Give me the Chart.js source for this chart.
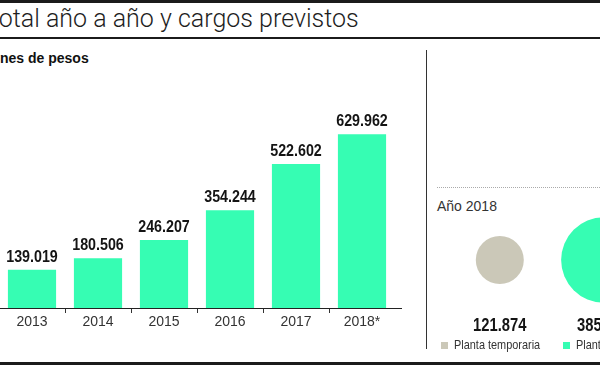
<!DOCTYPE html>
<html>
<head>
<meta charset="utf-8">
<script src="https://cdn.jsdelivr.net/npm/chart.js@4/dist/chart.umd.min.js"></script>
<style>
  body { margin: 0; width: 600px; height: 365px; overflow: hidden; position: relative; background: #fff; font-family: 'Liberation Sans', Arial, sans-serif; }
  .rule { position: absolute; left: 0; width: 600px; background: #1b1b1b; }
  #title { position: absolute; top: 4px; font: 300 25px Roboto, 'Liberation Sans', sans-serif; color: #1e1e1e; white-space: nowrap; line-height: 30px; }
  #unit { position: absolute; top: 50px; font: bold 14px 'Liberation Sans', Arial, sans-serif; color: #111; white-space: nowrap; line-height: 16px; }
  #divider { position: absolute; left: 426px; top: 50px; width: 1px; height: 299px; background: #333; }
  #dots { position: absolute; left: 437px; top: 187px; width: 163px; border-top: 1px dotted #aaa; }
  #year { position: absolute; left: 437px; top: 198px; font: 14px 'Liberation Sans', Arial, sans-serif; color: #333; line-height: 16px; }
  #bars { position: absolute; left: -1px; top: 100px; }
  #bubbles { position: absolute; left: 427px; top: 190px; }
  .item { position: absolute; top: 338px; height: 14px; white-space: nowrap; }
  .item i { position: absolute; left: 0; top: 4px; width: 7px; height: 7px; }
  .item span { position: absolute; left: 13px; top: 0; font: 13px 'Liberation Sans', Arial, sans-serif; color: #333; line-height: 14px; display: inline-block; transform: scaleX(0.84); transform-origin: left; }
</style>
</head>
<body>
<div class="rule" style="top:0;height:3px"></div>
<div id="title"></div>
<div class="rule" style="top:37px;height:2px"></div>
<div id="unit"></div>
<canvas id="bars" width="404" height="240"></canvas>
<div id="divider"></div>
<div id="dots"></div>
<div id="year"></div>
<canvas id="bubbles" width="260" height="175"></canvas>
<div id="legend"></div>
<div class="rule" style="top:362px;height:3px"></div>
<script>
// data
const years = ['2013', '2014', '2015', '2016', '2017', '2018*'];
const totals = [139019, 180506, 246207, 354244, 522602, 629962];
const plantas = ['Planta temporaria', 'Planta permanente'];
const cargos2018 = [121874, 385203];
const titleText = 'Total año a año y cargos previstos';
const unitText = 'Millones de pesos';
const yearText = 'Año 2018';

const GREEN = '#36fdb3';
const GRAY = '#cbc8b8';
const plantaColors = [GRAY, GREEN];
const legendLeft = [441, 563];

function fmt(v) {
    return String(v).replace(/\B(?=(\d{3})+(?!\d))/g, '.');
}

// texts cut by the left edge, like the original crop
const measure = document.createElement('canvas').getContext('2d');
function placeCut(el, text, cut, font) {
    el.textContent = text;
    measure.font = font;
    el.style.left = -measure.measureText(cut).width + 'px';
}
placeCut(document.getElementById('title'), titleText, 'T', '300 25px Roboto, "Liberation Sans", sans-serif');
placeCut(document.getElementById('unit'), unitText, 'Millo', 'bold 14px "Liberation Sans", Arial, sans-serif');
document.getElementById('year').textContent = yearText;

const legend = document.getElementById('legend');
plantas.forEach((name, i) => {
    const div = document.createElement('div');
    div.className = 'item';
    div.style.left = legendLeft[i] + 'px';
    div.innerHTML = `<i style="background:${plantaColors[i]}"></i><span>${name}</span>`;
    legend.appendChild(div);
});

// bar value labels, condensed bold
const barLabels = {
    id: 'barLabels',
    afterDatasetsDraw(chart) {
        const ctx = chart.ctx;
        ctx.save();
        ctx.fillStyle = '#141414';
        ctx.font = 'bold 17px "Liberation Sans", Arial, sans-serif';
        ctx.textAlign = 'center';
        chart.getDatasetMeta(0).data.forEach((bar, i) => {
            ctx.save();
            ctx.translate(bar.x, bar.y - 8);
            ctx.scale(0.84, 1);
            ctx.fillText(fmt(totals[i]), 0, 0);
            ctx.restore();
        });
        ctx.restore();
    }
};

const axisLine = {
    id: 'axisLine',
    afterDraw(chart) {
        const { ctx, chartArea } = chart;
        ctx.save();
        ctx.strokeStyle = '#222';
        ctx.lineWidth = 1;
        ctx.beginPath();
        ctx.moveTo(chartArea.left, chartArea.bottom + 0.5);
        ctx.lineTo(chartArea.right + 7, chartArea.bottom + 0.5);
        ctx.stroke();
        ctx.restore();
    }
};

new Chart(document.getElementById('bars'), {
    type: 'bar',
    data: {
        labels: years,
        datasets: [{
            data: totals,
            backgroundColor: GREEN,
            borderWidth: 0,
            barPercentage: 0.73,
            categoryPercentage: 1
        }]
    },
    options: {
        responsive: false,
        animation: false,
        events: [],
        layout: { padding: { top: 15, right: 8, left: 0, bottom: 0 } },
        plugins: { legend: { display: false }, tooltip: { enabled: false } },
        scales: {
            x: {
                border: { display: false },
                grid: {
                    drawOnChartArea: false,
                    drawTicks: true,
                    tickLength: 5,
                    color: c => (c.type !== 'tick' || c.index === 0) ? 'rgba(0,0,0,0)' : '#333'
                },
                ticks: {
                    color: '#333',
                    padding: 1,
                    font: { family: '"Liberation Sans Narrow", "Liberation Sans", Arial, sans-serif', size: 14 }
                },
                afterFit: s => { s.height = 32; }
            },
            y: { display: false, min: 0, max: 700000 }
        }
    },
    plugins: [barLabels, axisLine]
});

// 2018 circles, area proportional to the value
const R_K = 24 / Math.sqrt(121874);

const bubbleLabels = {
    id: 'bubbleLabels',
    afterDatasetsDraw(chart) {
        const ctx = chart.ctx;
        ctx.save();
        ctx.fillStyle = '#141414';
        ctx.font = 'bold 18px "Liberation Sans", Arial, sans-serif';
        ctx.textAlign = 'center';
        chart.getDatasetMeta(0).data.forEach((pt, i) => {
            ctx.save();
            ctx.translate(pt.x, chart.chartArea.bottom + 1);
            ctx.scale(0.82, 1);
            ctx.fillText(fmt(cargos2018[i]), 0, 0);
            ctx.restore();
        });
        ctx.restore();
    }
};

new Chart(document.getElementById('bubbles'), {
    type: 'bubble',
    data: {
        datasets: [{
            data: cargos2018.map((v, i) => ({ x: i, y: 0, r: R_K * Math.sqrt(v) })),
            backgroundColor: plantaColors,
            borderWidth: 0,
            clip: false
        }]
    },
    options: {
        responsive: false,
        animation: false,
        events: [],
        layout: { autoPadding: false, padding: { top: 0, left: 0, right: 0, bottom: 35 } },
        plugins: { legend: { display: false }, tooltip: { enabled: false } },
        scales: {
            x: { display: false, min: -0.7, max: 1.8 },
            y: { display: false, min: -1, max: 1 }
        }
    },
    plugins: [bubbleLabels]
});
</script>
</body>
</html>
